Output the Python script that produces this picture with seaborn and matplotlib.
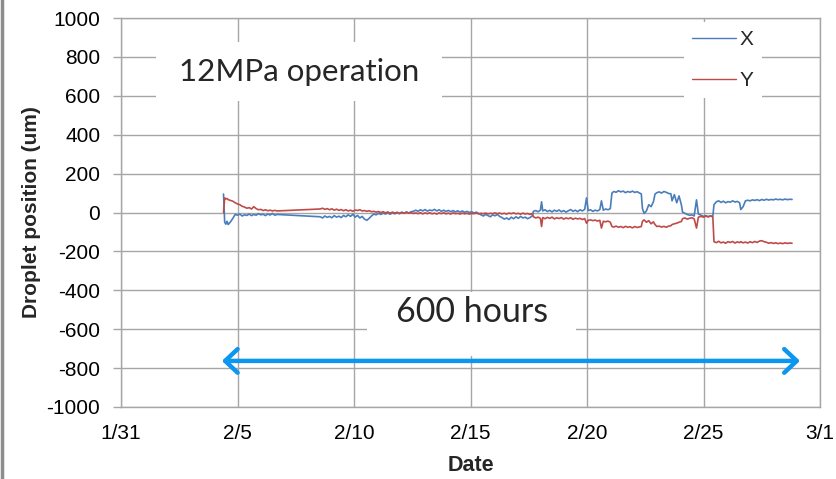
import matplotlib
matplotlib.use("Agg")
import matplotlib.pyplot as plt
import seaborn as sns
import pandas as pd
from matplotlib.patches import Rectangle
from matplotlib.lines import Line2D

# ---------------- data (days since 1/31, values in um) ----------------
days = [
    4.40, 4.45, 4.50, 4.55, 4.60, 4.70, 4.80, 4.90, 5.00, 5.10, 5.20, 5.30, 5.40,
    5.50, 5.60, 5.70, 5.80, 5.90, 6.00, 6.10, 6.20, 6.30, 6.40, 6.50, 6.60, 6.70,
    8.55, 8.65, 8.75, 8.85, 8.95, 9.05, 9.15, 9.25, 9.35, 9.45, 9.55, 9.65, 9.75,
    9.85, 9.95, 10.05, 10.15, 10.25, 10.35, 10.45,
    10.55, 10.65, 10.75, 10.85, 10.95, 11.05, 11.15, 11.25, 11.35, 11.45, 11.55,
    11.65, 11.75, 11.85, 11.95, 12.05, 12.15, 12.25, 12.35, 12.45,
    12.55, 12.65, 12.75, 12.85, 12.95, 13.05, 13.15, 13.25, 13.35, 13.45, 13.55,
    13.65, 13.75, 13.85, 13.95, 14.05, 14.15, 14.25, 14.35, 14.45,
    14.55, 14.65, 14.75, 14.85, 14.95, 15.05, 15.15, 15.25, 15.35, 15.45, 15.55,
    15.65, 15.75, 15.85, 15.95, 16.05, 16.15, 16.25, 16.35, 16.45,
    16.55, 16.65, 16.75, 16.85, 16.95, 17.05, 17.15, 17.25, 17.35, 17.45, 17.55, 17.65,
    17.70, 17.80, 17.90, 18.00, 18.05, 18.10, 18.20, 18.30, 18.40, 18.50, 18.60,
    18.70, 18.80, 18.90, 19.00, 19.10, 19.20, 19.30, 19.40, 19.50, 19.60, 19.70,
    19.80, 19.90, 19.98,
    20.05, 20.15, 20.25, 20.35, 20.45, 20.55, 20.62, 20.70, 20.80, 20.90, 21.00,
    21.07, 21.15, 21.25, 21.35, 21.45, 21.55, 21.65, 21.75, 21.85, 21.95, 22.05,
    22.15, 22.25, 22.33,
    22.38, 22.45, 22.55, 22.65, 22.75, 22.85, 22.92,
    23.00, 23.10, 23.20, 23.30, 23.40, 23.50, 23.60, 23.65, 23.75, 23.85, 23.95, 24.05,
    24.10, 24.20, 24.30, 24.40, 24.50, 24.60, 24.70, 24.78, 24.90, 25.00, 25.10,
    25.20, 25.30, 25.40,
    25.45, 25.55, 25.65, 25.75, 25.85, 25.95, 26.05, 26.15, 26.25, 26.35, 26.45, 26.55,
    26.60, 26.70, 26.80, 26.90, 27.00, 27.10, 27.20, 27.30, 27.40, 27.50, 27.60,
    27.70, 27.80, 27.90, 28.00, 28.10, 28.20, 28.30, 28.40, 28.50, 28.60, 28.70, 28.80,
]

x_pos = [
    95, -50, -60, -45, -62, -48, -30, -10, -14, -8, -18, -12, -15,
    -8, -16, -10, -14, -6, -12, -9, -16, -8, -13, -5, -14, -10,
    -22, -28, -18, -25, -20, -27, -16, -24, -19, -26, -15, -22, -12,
    -20, -9, -24, -15, -28, -20, -34,
    -40, -30, -18, -8, -12, -4, -10, -3, -8, -2, -9,
    -1, -7, 0, -6, 2, -4, 3, -3, 4,
    6, 12, 6, 14, 8, 15, 7, 13, 9, 16, 8,
    14, 6, 12, 5, 11, 4, 10, 3, 9,
    2, 8, 1, 6, 0, 4, -3, 2, -5, -12, -18,
    -10, -16, -22, -12, -17, -10, -20, -26, -34,
    -28, -36, -24, -32, -22, -30, -20, -28, -24, -32, -26, -18,
    6, 10, 4, 12, 55, 8, 14, 5, 11, 3, 12,
    6, 13, 4, 10, 2, 9, 15, 6, 12, 4, 14,
    8, 16, 75,
    10, 14, 6, 12, 8, 15, 60, 12, 18, 14, 20,
    100, 108, 104, 112, 106, 110, 102, 108, 104, 110, 103,
    107, 100, 96,
    20, -5, 8, 40, 30, 55, 95,
    102, 106, 100, 108, 104, 98, 96, 60, 92, 50, 85, 40,
    2, -4, -10, -14, -12, -18, 65, -8, -14, -20, -16,
    -22, -17, -20,
    40, 55, 60, 52, 58, 50, 56, 53, 60, 54, 57, 50,
    15, 30, 60, 63, 60, 65, 62, 66, 61, 67, 63,
    68, 64, 67, 65, 69, 66, 68, 65, 69, 66, 68, 67,
]

y_pos = [
    0, 75, 70, 72, 66, 62, 58, 50, 44, 40, 32, 28, 22,
    25, 18, 30, 20, 14, 16, 10, 14, 9, 12, 8, 11, 8,
    18, 22, 16, 20, 14, 19, 12, 17, 11, 15, 9, 14, 8,
    12, 6, 13, 10, 14, 8, 10,
    6, 9, 4, 6, 2, 5, 0, 4, -2, 3, -4,
    2, -3, 1, -5, 0, -4, 1, -3, -1,
    -5, -2, -6, -1, -7, -2, -6, -1, -7, -3, -8,
    -2, -6, -1, -7, -3, -8, -2, -6, -4,
    -8, -3, -7, -4, -8, -5, -6, -3, -7, -4, -6,
    -3, -7, -4, -6, -2, -6, -3, -7, -4,
    -8, -3, -6, -2, -7, -4, -9, -3, -8, -5, -10, -6,
    -22, -28, -24, -30, -72, -26, -32, -25, -30, -24, -33,
    -27, -31, -26, -34, -28, -32, -27, -35, -29, -33, -30,
    -36, -31, -55,
    -40, -38, -42, -39, -44, -40, -80, -45, -48, -44, -50,
    -72, -75, -70, -76, -72, -78, -71, -76, -73, -79, -72,
    -77, -74, -72,
    -45, -38, -50, -42, -58, -48, -62,
    -72, -70, -75, -71, -76, -70, -68, -62, -58, -55, -50, -46,
    -32, -28, -34, -30, -27, -33, -80, -24, -20, -24, -19,
    -22, -18, -23,
    -150, -155, -148, -156, -152, -158, -150, -154, -149, -157, -151, -155,
    -150, -156, -152, -157, -150, -155, -149, -154, -147, -145, -150,
    -153, -158, -155, -159, -156, -160, -157, -160, -156, -159, -157, -158,
]

series_names = ["X", "Y"]
series_colors = ["#4A7EBB", "#BE4B48"]
tick_days = [0, 5, 10, 15, 20, 25, 30]
tick_labels = ["1/31", "2/5", "2/10", "2/15", "2/20", "2/25", "3/1"]
y_ticks = [-1000, -800, -600, -400, -200, 0, 200, 400, 600, 800, 1000]

df = pd.DataFrame({
    "Date": days + days,
    "value": x_pos + y_pos,
    "series": ["X"] * len(days) + ["Y"] * len(days),
})

# ---------------- figure ----------------
sns.set_theme(style="white")
plt.rcParams["font.family"] = ["Liberation Sans", "DejaVu Sans"]
plt.rcParams["axes.unicode_minus"] = False

fig = plt.figure(figsize=(8.36, 4.79), dpi=100)
ax = fig.add_axes([121 / 836, 1 - 407 / 479, 699 / 836, 389 / 479])

grid_c = "#a6a6a6"
sns.lineplot(data=df, x="Date", y="value", hue="series", hue_order=series_names,
             palette=series_colors, estimator=None, sort=False, lw=1.2,
             ax=ax, zorder=3, legend=True)

ax.set_xlim(tick_days[0], tick_days[-1])
ax.set_ylim(y_ticks[0], y_ticks[-1])
ax.set_xticks(tick_days)
ax.set_xticklabels(tick_labels)
ax.set_yticks(y_ticks)
ax.grid(True, color=grid_c, lw=1.0)
ax.set_axisbelow(True)
for s in ax.spines.values():
    s.set_color(grid_c)
    s.set_linewidth(1.0)
ax.tick_params(axis="y", length=6, color=grid_c, width=1.0, pad=9,
               labelsize=15, labelcolor="black", left=True)
ax.tick_params(axis="x", length=0, pad=12, labelsize=15, labelcolor="black")

ax.set_xlabel("Date", fontsize=15.5, fontweight="bold", labelpad=9)
ax.set_ylabel("Droplet position (um)", fontsize=15, fontweight="bold", labelpad=4)

# white boxes behind annotation texts
ax.add_patch(Rectangle((1.5, 573), 12.28, 304, facecolor="white",
                       edgecolor="none", zorder=1))
ax.add_patch(Rectangle((10.56, -738), 8.97, 329, facecolor="white",
                       edgecolor="none", zorder=1))

ann_font = ["Lato", "DejaVu Sans"]
ax.text(7.65, 722, "12MPa operation", fontsize=22.5, family=ann_font,
        ha="center", va="center", zorder=4)
ax.text(15.05, -510, "600 hours", fontsize=24.5, family=ann_font,
        ha="center", va="center", zorder=4)

ax.annotate("", xy=(29.14, -763), xytext=(4.33, -763),
            arrowprops=dict(arrowstyle="<->,head_length=0.9,head_width=0.85",
                            color="#0C96F0", lw=3.2, mutation_scale=10,
                            shrinkA=0, shrinkB=0, capstyle="round",
                            joinstyle="round"),
            zorder=5)

handles, labels = ax.get_legend_handles_labels()
leg = ax.legend(handles, labels, loc="center", bbox_to_anchor=(0.861, 0.892),
                fontsize=15, frameon=True, facecolor="white", edgecolor="none",
                framealpha=1.0, fancybox=False, handlelength=2.1,
                handletextpad=0.15, labelspacing=1.05, borderpad=0.4)
leg.set_zorder(6)
for h in leg.get_lines():
    h.set_linewidth(1.0)

# gray border at the left edge of the slide
fig.add_artist(Line2D([0.002, 0.002], [0, 1], color="#8c8c8c", lw=2.5,
                      transform=fig.transFigure))

fig.savefig("out.png", dpi=100)
